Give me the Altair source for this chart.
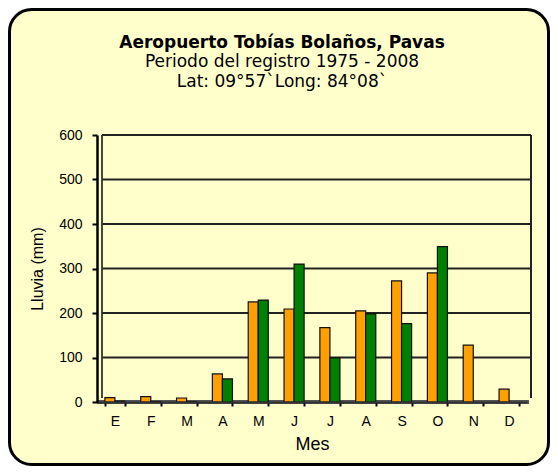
import altair as alt
import pandas as pd

months = ["E", "F", "M", "A", "M", "J", "J", "A", "S", "O", "N", "D"]
series_a = [10, 12, 9, 63, 225, 209, 167, 205, 272, 290, 128, 29]
series_b = [2, 1, 1, 52, 229, 310, 99, 198, 176, 349, None, None]
y_ticks = [0, 100, 200, 300, 400, 500, 600]

title = "Aeropuerto Tobías Bolaños, Pavas"
subtitle = ["Periodo del registro 1975 - 2008", "Lat: 09°57`Long: 84°08`"]

rows = []
for i, m in enumerate(months):
    rows.append({"idx": i, "mes": m, "serie": "a", "valor": series_a[i]})
    rows.append({"idx": i, "mes": m, "serie": "b", "valor": series_b[i]})
df = pd.DataFrame(rows)

W, H = 430, 267
BG = "#FFFFCC"

x_scale = alt.Scale(paddingInner=0.44, paddingOuter=0.22)
y_scale = alt.Scale(domain=[0, 600], nice=False)

y_axis = alt.Axis(
    title="Lluvia (mm)",
    values=y_ticks,
    tickSize=5,
    tickColor="black",
    tickWidth=2,
    domainColor="black",
    domainWidth=2.5,
    labelPadding=10,
    labelFont="Liberation Sans",
    labelFontSize=14,
    labelColor="black",
    titleFont="Liberation Sans",
    titleFontSize=16,
    titleFontWeight="normal",
    titleColor="black",
    titlePadding=13,
    grid=False,
    zindex=1,
)

frame = alt.Chart(pd.DataFrame({"k": [0]})).mark_rect(
    fill=BG, stroke="black", strokeWidth=3, cornerRadius=22
).encode(
    x=alt.value(-87.5), x2=alt.value(451.5), y=alt.value(-125.5), y2=alt.value(329.5)
)

grid = alt.Chart(pd.DataFrame({"v": y_ticks[1:]})).mark_rule(
    color="#222", strokeWidth=2
).encode(
    y=alt.Y("v:Q", scale=y_scale, axis=y_axis),
    x=alt.value(5), x2=alt.value(434),
)

wall = alt.Chart(pd.DataFrame({"v": [600]})).mark_rule(
    color="#333", strokeWidth=1.8
).encode(
    y=alt.Y("v:Q", scale=y_scale, axis=y_axis), y2=alt.value(H - 4), x=alt.value(5)
)
right_edge = alt.Chart(pd.DataFrame({"v": [600]})).mark_rule(
    color="#222", strokeWidth=2
).encode(
    y=alt.Y("v:Q", scale=y_scale, axis=y_axis), y2=alt.value(H - 4), x=alt.value(434)
)
floor = alt.Chart(pd.DataFrame({"v": [0]})).mark_rule(
    color="#555", strokeWidth=4
).encode(
    y=alt.Y("v:Q", scale=y_scale, axis=y_axis), x=alt.value(0), x2=alt.value(432)
)

bars = alt.Chart(df).mark_bar(stroke="#111", strokeWidth=1.2).encode(
    x=alt.X(
        "idx:O",
        scale=x_scale,
        axis=alt.Axis(
            title="Mes",
            labelExpr="['E','F','M','A','M','J','J','A','S','O','N','D'][datum.value]",
            labelAngle=0,
            tickBand="extent",
            tickSize=4,
            tickColor="black",
            tickWidth=2,
            domainColor="#333",
            domainWidth=2,
            labelPadding=8,
            labelFont="Liberation Sans",
            labelFontSize=14,
            labelColor="black",
            titleFont="Liberation Sans",
            titleFontSize=18,
            titleFontWeight="normal",
            titleColor="black",
            titlePadding=7,
            grid=False,
            zindex=1,
        ),
    ),
    xOffset=alt.XOffset("serie:N"),
    y=alt.Y("valor:Q", scale=y_scale, axis=y_axis),
    color=alt.Color(
        "serie:N",
        scale=alt.Scale(domain=["a", "b"], range=["#FFA000", "#008000"]),
        legend=None,
    ),
)

chart = alt.layer(frame, grid, wall, right_edge, floor, bars).properties(
    width=W,
    height=H,
    autosize=alt.AutoSizeParams(type="none"),
    padding={"left": 89, "top": 127, "right": 23, "bottom": 64},
    title=alt.TitleParams(
        text=title,
        subtitle=subtitle,
        anchor="middle",
        dx=-30,
        offset=-83,
        font="DejaVu Sans",
        fontSize=17,
        fontWeight="bold",
        color="black",
        subtitleFont="DejaVu Sans",
        subtitleFontSize=17,
        subtitleLineHeight=20,
        subtitleColor="black",
        subtitlePadding=2,
        zindex=1,
    ),
).configure_view(stroke=None).configure(background="white")

chart.save("out.html", embed_options={"renderer": "svg", "actions": False})
